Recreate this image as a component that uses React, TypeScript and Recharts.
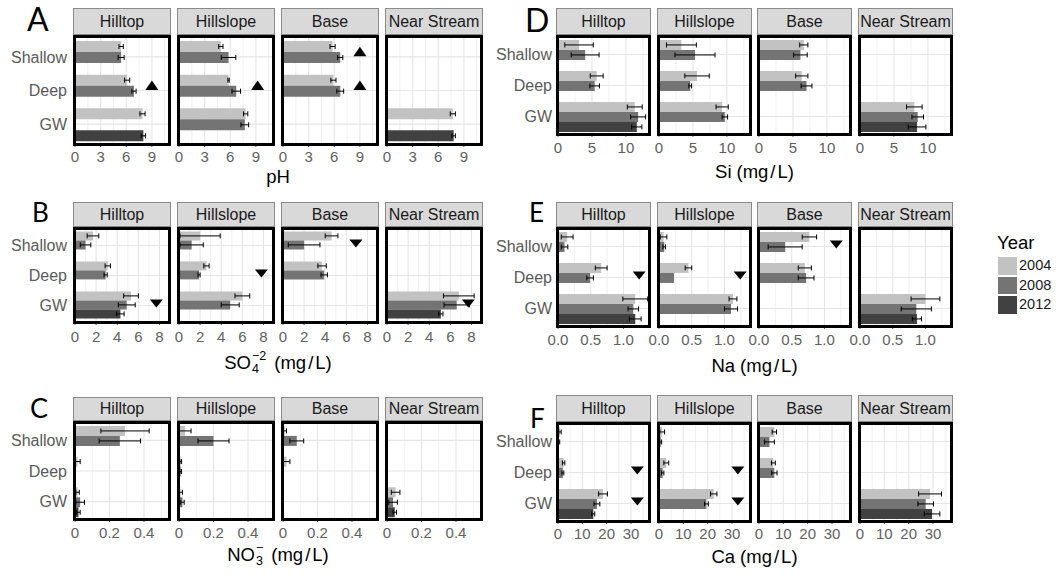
import React from 'react';
import { ComposedChart, Bar, XAxis, YAxis, CartesianGrid, ErrorBar, ReferenceDot } from 'recharts';

const FONT = "'Liberation Sans', Arial, Helvetica, sans-serif";

const SITES = ['Hilltop', 'Hillslope', 'Base', 'Near Stream'];
const DEPTHS = ['Shallow', 'Deep', 'GW'];
const YEARS = ['2004', '2008', '2012'];
const YEAR_COLORS = ['#c2c2c2', '#747474', '#414141'];

type Cell = number | null;
type SiteGrid = Cell[][]; // [site][depth]
type Mark = { site: string; depth: string; value: number };
const _ = null;

// ---------- pH ----------
const pH_2004: SiteGrid = [[5.4, 6.1, 7.9], [4.9, 5.8, 7.8], [5.8, 5.9, _], [_, _, 7.7]];
const pH_2004_se: SiteGrid = [[0.25, 0.3, 0.3], [0.25, 0.08, 0.25], [0.3, 0.3, _], [_, _, 0.3]];
const pH_2008: SiteGrid = [[5.4, 6.9, _], [5.8, 6.7, 7.7], [6.7, 6.7, _], [_, _, _]];
const pH_2008_se: SiteGrid = [[0.35, 0.25, _], [0.85, 0.5, 0.45], [0.3, 0.4, _], [_, _, _]];
const pH_2012: SiteGrid = [[_, _, 8.0], [_, _, _], [_, _, _], [_, _, 7.8]];
const pH_2012_se: SiteGrid = [[_, _, 0.25], [_, _, _], [_, _, _], [_, _, 0.2]];
const pH_marks: Mark[] = [
  { site: 'Hilltop', depth: 'Deep', value: 9.0 },
  { site: 'Hillslope', depth: 'Deep', value: 9.2 },
  { site: 'Base', depth: 'Shallow', value: 9.0 },
  { site: 'Base', depth: 'Deep', value: 9.0 },
];

// ---------- SO4 ----------
const so4_2004: SiteGrid = [[1.7, 3.1, 5.3], [2.0, 2.6, 6.0], [4.6, 3.7, _], [_, _, 6.8]];
const so4_2004_se: SiteGrid = [[0.55, 0.25, 0.7], [1.9, 0.25, 0.7], [0.6, 0.4, _], [_, _, 1.45]];
const so4_2008: SiteGrid = [[1.0, 2.9, 4.9], [1.2, 1.9, 4.85], [2.0, 3.9, _], [_, _, 6.6]];
const so4_2008_se: SiteGrid = [[0.5, 0.15, 0.8], [1.1, 0.1, 0.85], [1.5, 0.3, _], [_, _, 1.2]];
const so4_2012: SiteGrid = [[_, _, 4.3], [_, _, _], [_, _, _], [_, _, 5.1]];
const so4_2012_se: SiteGrid = [[_, _, 0.35], [_, _, _], [_, _, _], [_, _, 0.2]];
const so4_marks: Mark[] = [
  { site: 'Hilltop', depth: 'GW', value: 7.7 },
  { site: 'Hillslope', depth: 'Deep', value: 7.8 },
  { site: 'Base', depth: 'Shallow', value: 6.9 },
  { site: 'Near Stream', depth: 'GW', value: 7.7 },
];

// ---------- NO3 ----------
const no3_2004: SiteGrid = [[0.29, 0.015, 0.015], [0.035, 0.01, 0.01], [0.01, 0.02, _], [_, _, 0.05]];
const no3_2004_se: SiteGrid = [[0.14, 0.015, 0.01], [0.035, 0.005, 0.01], [0.01, 0.02, _], [_, _, 0.025]];
const no3_2008: SiteGrid = [[0.26, _, 0.03], [0.2, 0.01, 0.02], [0.08, _, _], [_, _, 0.035]];
const no3_2008_se: SiteGrid = [[0.12, _, 0.025], [0.09, 0.005, 0.01], [0.04, _, _], [_, _, 0.025]];
const no3_2012: SiteGrid = [[_, _, 0.02], [_, _, _], [_, _, _], [_, _, 0.045]];
const no3_2012_se: SiteGrid = [[_, _, 0.01], [_, _, _], [_, _, _], [_, _, 0.01]];
const no3_marks: Mark[] = [];

// ---------- Si ----------
const si_2004: SiteGrid = [[3.1, 5.7, 11.3], [3.3, 5.6, 9.3], [6.6, 6.3, _], [_, _, 8.0]];
const si_2004_se: SiteGrid = [[2.1, 0.95, 1.1], [2.2, 1.8, 0.9], [0.6, 0.9, _], [_, _, 1.15]];
const si_2008: SiteGrid = [[4.0, 5.4, 11.8], [5.3, 4.6, 9.7], [6.1, 7.0, _], [_, _, 8.5]];
const si_2008_se: SiteGrid = [[2.05, 0.7, 1.1], [2.95, 0.2, 0.4], [1.0, 0.8, _], [_, _, 0.85]];
const si_2012: SiteGrid = [[_, _, 11.6], [_, _, _], [_, _, _], [_, _, 8.4]];
const si_2012_se: SiteGrid = [[_, _, 0.75], [_, _, _], [_, _, _], [_, _, 1.3]];
const si_marks: Mark[] = [];

// ---------- Na ----------
const na_2004: SiteGrid = [[0.14, 0.66, 1.18], [0.07, 0.45, 1.13], [0.77, 0.7, _], [_, _, 1.0]];
const na_2004_se: SiteGrid = [[0.09, 0.09, 0.19], [0.05, 0.05, 0.06], [0.11, 0.1, _], [_, _, 0.22]];
const na_2008: SiteGrid = [[0.1, 0.49, 1.15], [0.08, 0.23, 1.1], [0.4, 0.72, _], [_, _, 0.86]];
const na_2008_se: SiteGrid = [[0.05, 0.05, 0.08], [0.02, _, 0.1], [0.26, 0.12, _], [_, _, 0.23]];
const na_2012: SiteGrid = [[_, _, 1.18], [_, _, _], [_, _, _], [_, _, 0.87]];
const na_2012_se: SiteGrid = [[_, _, 0.09], [_, _, _], [_, _, _], [_, _, 0.07]];
const na_marks: Mark[] = [
  { site: 'Hilltop', depth: 'Deep', value: 1.24 },
  { site: 'Hillslope', depth: 'Deep', value: 1.24 },
  { site: 'Base', depth: 'Shallow', value: 1.18 },
];

// ---------- Ca ----------
const ca_2004: SiteGrid = [[0.8, 2.3, 18.5], [1.3, 3.0, 22.5], [6.3, 5.9, _], [_, _, 28.8]];
const ca_2004_se: SiteGrid = [[0.5, 0.5, 1.8], [1.0, 1.0, 1.3], [0.9, 0.8, _], [_, _, 4.7]];
const ca_2008: SiteGrid = [[0.4, 2.0, 16.0], [0.7, 1.5, 19.5], [4.3, 6.3, _], [_, _, 27.0]];
const ca_2008_se: SiteGrid = [[0.3, 0.4, 1.2], [0.4, 0.5, 0.8], [2.0, 1.1, _], [_, _, 3.2]];
const ca_2012: SiteGrid = [[_, _, 14.5], [_, _, _], [_, _, _], [_, _, 29.6]];
const ca_2012_se: SiteGrid = [[_, _, 0.6], [_, _, _], [_, _, _], [_, _, 3.2]];
const ca_marks: Mark[] = [
  { site: 'Hilltop', depth: 'Deep', value: 32.6 },
  { site: 'Hilltop', depth: 'GW', value: 32.6 },
  { site: 'Hillslope', depth: 'Deep', value: 32.4 },
  { site: 'Hillslope', depth: 'GW', value: 32.4 },
];

type Title = { name: string; sub?: string; sup?: string; unit: boolean };
type PanelDef = {
  id: string;
  title: Title;
  means: SiteGrid[];
  errs: SiteGrid[];
  marks: Mark[];
  markDir: 'up' | 'down';
  domain: [number, number];
  ticks: number[];
  minor: number[];
  fmt: (v: number) => string;
};

const plain = (v: number) => String(v);
const oneDec = (v: number) => v.toFixed(1);

const PANELS: PanelDef[] = [
  { id: 'A', title: { name: 'pH', unit: false }, means: [pH_2004, pH_2008, pH_2012], errs: [pH_2004_se, pH_2008_se, pH_2012_se], marks: pH_marks, markDir: 'up', domain: [0, 11], ticks: [0, 3, 6, 9], minor: [1.5, 4.5, 7.5, 10.5], fmt: plain },
  { id: 'B', title: { name: 'SO', sub: '4', sup: '\u22122', unit: true }, means: [so4_2004, so4_2008, so4_2012], errs: [so4_2004_se, so4_2008_se, so4_2012_se], marks: so4_marks, markDir: 'down', domain: [0, 8.9], ticks: [0, 2, 4, 6, 8], minor: [1, 3, 5, 7], fmt: plain },
  { id: 'C', title: { name: 'NO', sub: '3', sup: '\u2212', unit: true }, means: [no3_2004, no3_2008, no3_2012], errs: [no3_2004_se, no3_2008_se, no3_2012_se], marks: no3_marks, markDir: 'down', domain: [0, 0.545], ticks: [0, 0.2, 0.4], minor: [0.1, 0.3, 0.5], fmt: plain },
  { id: 'D', title: { name: 'Si', unit: true }, means: [si_2004, si_2008, si_2012], errs: [si_2004_se, si_2008_se, si_2012_se], marks: si_marks, markDir: 'down', domain: [0, 13.4], ticks: [0, 5, 10], minor: [2.5, 7.5, 12.5], fmt: plain },
  { id: 'E', title: { name: 'Na', unit: true }, means: [na_2004, na_2008, na_2012], errs: [na_2004_se, na_2008_se, na_2012_se], marks: na_marks, markDir: 'down', domain: [0, 1.39], ticks: [0, 0.5, 1.0], minor: [0.25, 0.75, 1.25], fmt: oneDec },
  { id: 'F', title: { name: 'Ca', unit: true }, means: [ca_2004, ca_2008, ca_2012], errs: [ca_2004_se, ca_2008_se, ca_2012_se], marks: ca_marks, markDir: 'down', domain: [0, 37.4], ticks: [0, 10, 20, 30], minor: [5, 15, 25, 35], fmt: plain },
];

// ---------- layout (positions / sizes) ----------
const COL_LEFTS = [[75, 179, 283, 387], [558, 659, 759, 860]];
const COL_W = [94, 91];
const COL_YW = [75, 60];
const COL_YMARGIN = [8, 6];

type Lay = { col: number; stripTop: number; plotTop: number; plotH: number; titleY: number; pad: number; tickGap: number; letter: { x: number; y: number; size: number } };
const LAYOUT: Record<string, Lay> = {
  A: { col: 0, stripTop: 8, plotTop: 37, plotH: 107, titleY: 177, pad: 3, tickGap: 7, letter: { x: 27, y: 31, size: 32 } },
  B: { col: 0, stripTop: 202, plotTop: 229, plotH: 93, titleY: 363, pad: 1.5, tickGap: 9, letter: { x: 32, y: 222, size: 26 } },
  C: { col: 0, stripTop: 397, plotTop: 423, plotH: 96, titleY: 555, pad: 2, tickGap: 8, letter: { x: 30, y: 418, size: 27 } },
  D: { col: 1, stripTop: 8, plotTop: 37, plotH: 97, titleY: 172, pad: 2, tickGap: 8, letter: { x: 525, y: 32, size: 32 } },
  E: { col: 1, stripTop: 202, plotTop: 229, plotH: 97, titleY: 366, pad: 2, tickGap: 8, letter: { x: 529, y: 222, size: 26 } },
  F: { col: 1, stripTop: 395, plotTop: 424, plotH: 97, titleY: 557, pad: 2, tickGap: 7, letter: { x: 530, y: 428, size: 26 } },
};

const ML = 14;
const MR = 14;
const XH = 30;

function triangleShape(dir: 'up' | 'down') {
  return (props: any) => {
    const { cx, cy } = props;
    if (cx == null || cy == null) return <g />;
    const w = 6.5;
    if (dir === 'up') {
      const c = cy - 5;
      return <polygon points={`${cx - w},${c + 4.5} ${cx + w},${c + 4.5} ${cx},${c - 5}`} fill="#000" />;
    }
    const c = cy - 2;
    return <polygon points={`${cx - w},${c - 4} ${cx + w},${c - 4} ${cx},${c + 4}`} fill="#000" />;
  };
}

function Facet({ panel, lay, siteIdx }: { panel: PanelDef; lay: Lay; siteIdx: number }) {
  const showY = siteIdx === 0;
  const plotLeft = COL_LEFTS[lay.col][siteIdx];
  const plotW = COL_W[lay.col];
  const yw = showY ? COL_YW[lay.col] : 0;
  const chartW = ML + yw + plotW + MR;
  const chartH = lay.plotH + XH;
  const site = SITES[siteIdx];
  const rows = DEPTHS.map((d, i) => {
    const r: any = { depth: d };
    YEARS.forEach((y, k) => {
      r['v' + y] = panel.means[k][siteIdx][i];
      r['e' + y] = panel.errs[k][siteIdx][i];
    });
    return r;
  });
  const marks = panel.marks.filter((m) => m.site === site);
  const shape = triangleShape(panel.markDir);
  return (
    <>
      <div
        style={{
          position: 'absolute', left: plotLeft - 2, top: lay.stripTop, width: plotW + 4,
          height: lay.plotTop - 2 - lay.stripTop, boxSizing: 'border-box', background: '#d9d9d9',
          border: '1px solid #8a8a8a', color: '#1a1a1a', fontSize: 16, display: 'flex',
          alignItems: 'center', justifyContent: 'center', whiteSpace: 'nowrap', overflow: 'hidden',
        }}
      >
        {site}
      </div>
      <div style={{ position: 'absolute', left: plotLeft - ML - yw, top: lay.plotTop, width: chartW, height: chartH }}>
        <ComposedChart
          layout="vertical"
          width={chartW}
          height={chartH}
          data={rows}
          margin={{ top: 0, right: MR, bottom: 0, left: ML }}
          barCategoryGap="3%"
          barGap={0}
        >
          <CartesianGrid horizontal={false} verticalValues={panel.minor} stroke="#eeeeee" strokeWidth={0.8} />
          <CartesianGrid verticalValues={panel.ticks} stroke="#e6e6e6" strokeWidth={1.1} />
          <XAxis
            type="number"
            domain={panel.domain}
            ticks={panel.ticks}
            allowDataOverflow
            interval={0}
            axisLine={false}
            tickLine={{ stroke: '#666' }}
            tickSize={3}
            tickMargin={lay.tickGap - 3}
            height={XH}
            tick={{ fill: '#5f5f5f', fontSize: 15 }}
            tickFormatter={panel.fmt}
          />
          <YAxis
            type="category"
            dataKey="depth"
            hide={!showY}
            width={yw}
            axisLine={false}
            tickLine={false}
            tickSize={0}
            tickMargin={COL_YMARGIN[lay.col]}
            padding={{ top: lay.pad, bottom: lay.pad }}
            tick={{ fill: '#5a5a5a', fontSize: 16 }}
            interval={0}
          />
          {YEARS.map((y, k) => (
            <Bar key={y} dataKey={'v' + y} fill={YEAR_COLORS[k]} isAnimationActive={false}>
              <ErrorBar dataKey={'e' + y} direction="x" width={2.5} stroke="#000" strokeWidth={1} />
            </Bar>
          ))}
          {marks.map((m, i) => (
            <ReferenceDot key={i} x={m.value} y={m.depth} r={6} shape={shape} ifOverflow="visible" />
          ))}
        </ComposedChart>
      </div>
      <div
        style={{
          position: 'absolute', left: plotLeft - 2, top: lay.plotTop - 2, width: plotW + 4,
          height: lay.plotH + 4, boxSizing: 'border-box', border: '3px solid #000', pointerEvents: 'none',
        }}
      />
    </>
  );
}

function AxisTitle({ t, cx, cy }: { t: Title; cx: number; cy: number }) {
  return (
    <div
      style={{
        position: 'absolute', left: cx, top: cy, transform: 'translate(-50%, -50%)', fontSize: 18.5,
        color: '#000', whiteSpace: 'nowrap', display: 'flex', alignItems: 'center', lineHeight: '20px',
      }}
    >
      <span>{t.name}</span>
      {(t.sub || t.sup) && (
        <span style={{ display: 'inline-flex', flexDirection: 'column', fontSize: 12.5, lineHeight: '13px', marginLeft: 1 }}>
          <span>{t.sup}</span>
          <span>{t.sub}</span>
        </span>
      )}
      {t.unit && (
        <span style={{ marginLeft: t.sub ? 8 : 5 }}>
          (mg<span style={{ margin: '0 2px' }}>/</span>L)
        </span>
      )}
    </div>
  );
}

function Panel({ panel }: { panel: PanelDef }) {
  const lay = LAYOUT[panel.id];
  const lefts = COL_LEFTS[lay.col];
  const cx = (lefts[0] + lefts[3] + COL_W[lay.col]) / 2;
  return (
    <>
      {SITES.map((s, i) => (
        <Facet key={s} panel={panel} lay={lay} siteIdx={i} />
      ))}
      <AxisTitle t={panel.title} cx={cx} cy={lay.titleY} />
    </>
  );
}

function YearLegend() {
  return (
    <>
      <div style={{ position: 'absolute', left: 997, top: 233, fontSize: 18.5, lineHeight: '20px', color: '#000' }}>Year</div>
      {YEARS.map((y, k) => (
        <React.Fragment key={y}>
          <div style={{ position: 'absolute', left: 998, top: 257 + k * 19.5, width: 19, height: 17.5, background: YEAR_COLORS[k] }} />
          <div style={{ position: 'absolute', left: 1019, top: 257 + k * 19.5, height: 17.5, lineHeight: '17.5px', fontSize: 14.5, color: '#1a1a1a' }}>{y}</div>
        </React.Fragment>
      ))}
    </>
  );
}

export default function App() {
  return (
    <div style={{ position: 'absolute', left: 0, top: 0, width: 1059, height: 576, background: '#fff', overflow: 'hidden', fontFamily: FONT }}>
      {PANELS.map((p) => (
        <Panel key={p.id} panel={p} />
      ))}
      <YearLegend />
      <svg width={1059} height={576} style={{ position: 'absolute', left: 0, top: 0, pointerEvents: 'none' }}>
        {PANELS.map((p) => {
          const l = LAYOUT[p.id].letter;
          return (
            <text key={p.id} x={l.x} y={l.y} fontSize={l.size} fontFamily="Lato, 'Open Sans', sans-serif" fill="#000">
              {p.id}
            </text>
          );
        })}
      </svg>
    </div>
  );
}
